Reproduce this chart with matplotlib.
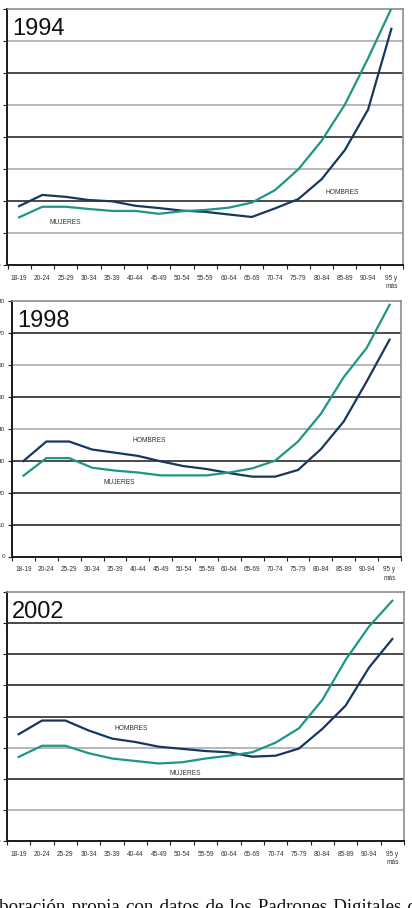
import matplotlib
matplotlib.use("Agg")
import matplotlib.pyplot as plt
import numpy as np

categories = ["18-19", "20-24", "25-29", "30-34", "35-39", "40-44", "45-49",
              "50-54", "55-59", "60-64", "65-69", "70-74", "75-79", "80-84",
              "85-89", "90-94", "95 y\nmás"]
yticks = [0, 10, 20, 30, 40, 50, 60, 70, 80]
years = ["1994", "1998", "2002"]

hombres_1994 = [18.4, 21.9, 21.3, 20.3, 19.9, 18.5, 17.8, 17.0, 16.6, 15.8,
                15.0, 17.7, 20.6, 26.8, 35.9, 48.6, 73.8]
mujeres_1994 = [14.9, 18.2, 18.2, 17.5, 16.9, 16.9, 16.0, 16.8, 17.2, 17.9,
                19.5, 23.4, 29.9, 38.8, 50.1, 64.6, 80.2]
hombres_1998 = [29.9, 36.0, 36.0, 33.5, 32.5, 31.5, 29.8, 28.3, 27.4, 26.1,
                25.0, 25.0, 27.1, 33.6, 42.3, 54.8, 67.9]
mujeres_1998 = [25.3, 30.8, 30.8, 27.8, 26.9, 26.3, 25.4, 25.4, 25.4, 26.3,
                27.6, 30.0, 36.0, 44.7, 56.2, 65.3, 78.8]
hombres_2002 = [34.3, 38.7, 38.7, 35.5, 32.9, 31.8, 30.3, 29.6, 28.9, 28.5,
                27.1, 27.4, 29.7, 36.0, 43.5, 55.7, 64.9]
mujeres_2002 = [27.0, 30.6, 30.6, 28.2, 26.5, 25.7, 24.9, 25.3, 26.5, 27.4,
                28.5, 31.6, 36.2, 45.3, 58.2, 68.9, 77.2]

hombres = [hombres_1994, hombres_1998, hombres_2002]
mujeres = [mujeres_1994, mujeres_1998, mujeres_2002]

# label positions (category index, value)
lab_h = [(13.9, 22.7), (5.5, 36.3), (4.8, 36.0)]
lab_m = [(2.0, 13.2), (4.2, 23.3), (7.15, 21.8)]

W, H = 412, 908
fig = plt.figure(figsize=(W / 100, H / 100), dpi=100)

# axes boxes in pixels: left, right, top, bottom
boxes = [(7.5, 403, 9, 265), (12, 401, 301, 556.5), (7, 404, 592, 841)]
D, L = "#3c3c3c", "#ababab"
grid_cols = [[L, D, L, D, L, D, L],
             [D, D, D, L, D, L, D],
             [L, D, L, D, D, D, D]]

C_H = "#17375e"
C_M = "#1e9685"
x = np.arange(len(categories))
font = "Liberation Sans"

for i, (l, r, t, b) in enumerate(boxes):
    ax = fig.add_axes([l / W, (H - b) / H, (r - l) / W, (b - t) / H])
    ax.set_xlim(-0.5, len(categories) - 0.5)
    ax.set_ylim(0, 80)
    for v, c in zip(yticks[1:-1], grid_cols[i]):
        ax.axhline(v, color=c, lw=1.3 if c == D else 1.2, zorder=1)
    ax.plot(x, hombres[i], color=C_H, lw=1.6, zorder=3, clip_on=True,
            solid_joinstyle="round")
    ax.plot(x, mujeres[i], color=C_M, lw=1.6, zorder=3, clip_on=True,
            solid_joinstyle="round")
    ax.text(*lab_h[i], "HOMBRES", fontsize=4.8, color="#333333",
            family=font, ha="center", va="center")
    ax.text(*lab_m[i], "MUJERES", fontsize=4.8, color="#333333",
            family=font, ha="center", va="center")
    ax.text(0.013, 0.965, years[i], transform=ax.transAxes, fontsize=17,
            family=font, ha="left", va="top", color="#111111")
    ax.set_xticks(x)
    ax.set_xticklabels(categories, fontsize=4.7, family=font,
                       color="#333333", linespacing=1.3)
    ax.set_xticks(np.arange(len(categories) + 1) - 0.5, minor=True)
    ax.tick_params(axis="x", which="major", length=0, pad=7)
    ax.tick_params(axis="x", which="minor", length=3, width=0.8,
                   direction="out", color="#222222")
    ax.set_yticks(yticks)
    ax.set_yticklabels([str(v) for v in yticks], fontsize=4.6,
                       family=font, color="#333333")
    ax.tick_params(axis="y", length=3, width=0.8, direction="out",
                   color="#222222", pad=2)
    for s in ["left", "bottom"]:
        ax.spines[s].set_color("#1a1a1a")
        ax.spines[s].set_linewidth(1.4)
    for s in ["top", "right"]:
        ax.spines[s].set_color("#8c8c8c")
        ax.spines[s].set_linewidth(1.2)
    ax.set_facecolor("white")

sp = "\u2004"
caption = sp.join(["Elaboración", "propia", "con", "datos", "de", "los",
                   "Padrones", "Digitales", "de"])
fig.text(-26 / W, -4 / H, caption, fontsize=13.6, family="Liberation Serif",
         ha="left", va="baseline", color="#111111")

fig.savefig("out.png", dpi=100)
